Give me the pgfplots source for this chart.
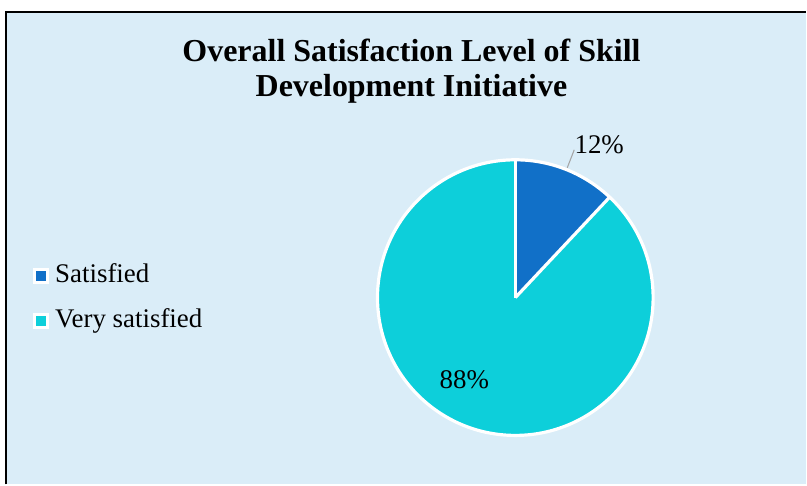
\documentclass[border=0pt]{standalone}
\usepackage{fontspec}
\setmainfont{Liberation Serif}
\usepackage{pgfplots}
\usepackage{pgfplotstable}
\pgfplotsset{compat=1.18}
\definecolor{bgblue}{RGB}{218,237,248}
\definecolor{cone}{RGB}{17,112,200}
\definecolor{ctwo}{RGB}{13,207,218}
\pgfplotstableread{
label value
Satisfied 12
Very_satisfied 88
}\piedata
\begin{document}
\begin{tikzpicture}
\pgfplotstablegetelem{0}{value}\of\piedata
\pgfmathtruncatemacro{\va}{\pgfplotsretval}
\pgfplotstablegetelem{1}{value}\of\piedata
\pgfmathtruncatemacro{\vb}{\pgfplotsretval}
\pgfmathsetmacro{\aend}{90-3.6*\va}
\pgfmathsetmacro{\bend}{\aend-3.6*\vb}
\begin{axis}[x=0.75pt,y=0.75pt,xmin=0,xmax=807,ymin=0,ymax=485,hide axis,clip=false]
\fill[white] (axis cs:0,0) rectangle (axis cs:807,485);
\fill[bgblue] (axis cs:6,0) rectangle (axis cs:807,473);
\draw[black,line width=1.6pt] (axis cs:6,0) -- (axis cs:6,473) -- (axis cs:807,473);
% pie
\fill[cone] (axis cs:516,187) -- ++(90:103.5pt) arc[start angle=90,end angle=\aend,radius=103.5pt] -- cycle;
\fill[ctwo] (axis cs:516,187) -- ++(\aend:103.5pt) arc[start angle=\aend,end angle=\bend,radius=103.5pt] -- cycle;
\draw[white,line width=2.4pt] (axis cs:516,187) circle[radius=103.5pt];
\draw[white,line width=2.4pt] (axis cs:516,187) -- ++(90:103.5pt);
\draw[white,line width=2.4pt] (axis cs:516,187) -- ++(\aend:103.5pt);
% data labels
\draw[gray!70,line width=0.8pt] (axis cs:568,317) -- (axis cs:575,335);
\node[anchor=base,font=\fontsize{20.2}{24}\selectfont] at (axis cs:600,331) {\va\%};
\node[anchor=base,font=\fontsize{20.2}{24}\selectfont] at (axis cs:465,96) {\vb\%};
% title
\node[anchor=base,font=\fontsize{24}{28}\selectfont\bfseries] at (axis cs:412,423) {Overall Satisfaction Level of Skill};
\node[anchor=base,font=\fontsize{24}{28}\selectfont\bfseries] at (axis cs:412,388) {Development Initiative};
% legend
\fill[white] (axis cs:33,201) rectangle (axis cs:49,217);
\fill[cone] (axis cs:36,204) rectangle (axis cs:46,214);
\fill[white] (axis cs:33,156) rectangle (axis cs:49,172);
\fill[ctwo] (axis cs:36,159) rectangle (axis cs:46,169);
\node[anchor=base west,inner sep=0pt,font=\fontsize{20.2}{24}\selectfont] at (axis cs:55,202) {Satisfied};
\node[anchor=base west,inner sep=0pt,font=\fontsize{20.2}{24}\selectfont] at (axis cs:55,157) {Very satisfied};
\end{axis}
\end{tikzpicture}
\end{document}
